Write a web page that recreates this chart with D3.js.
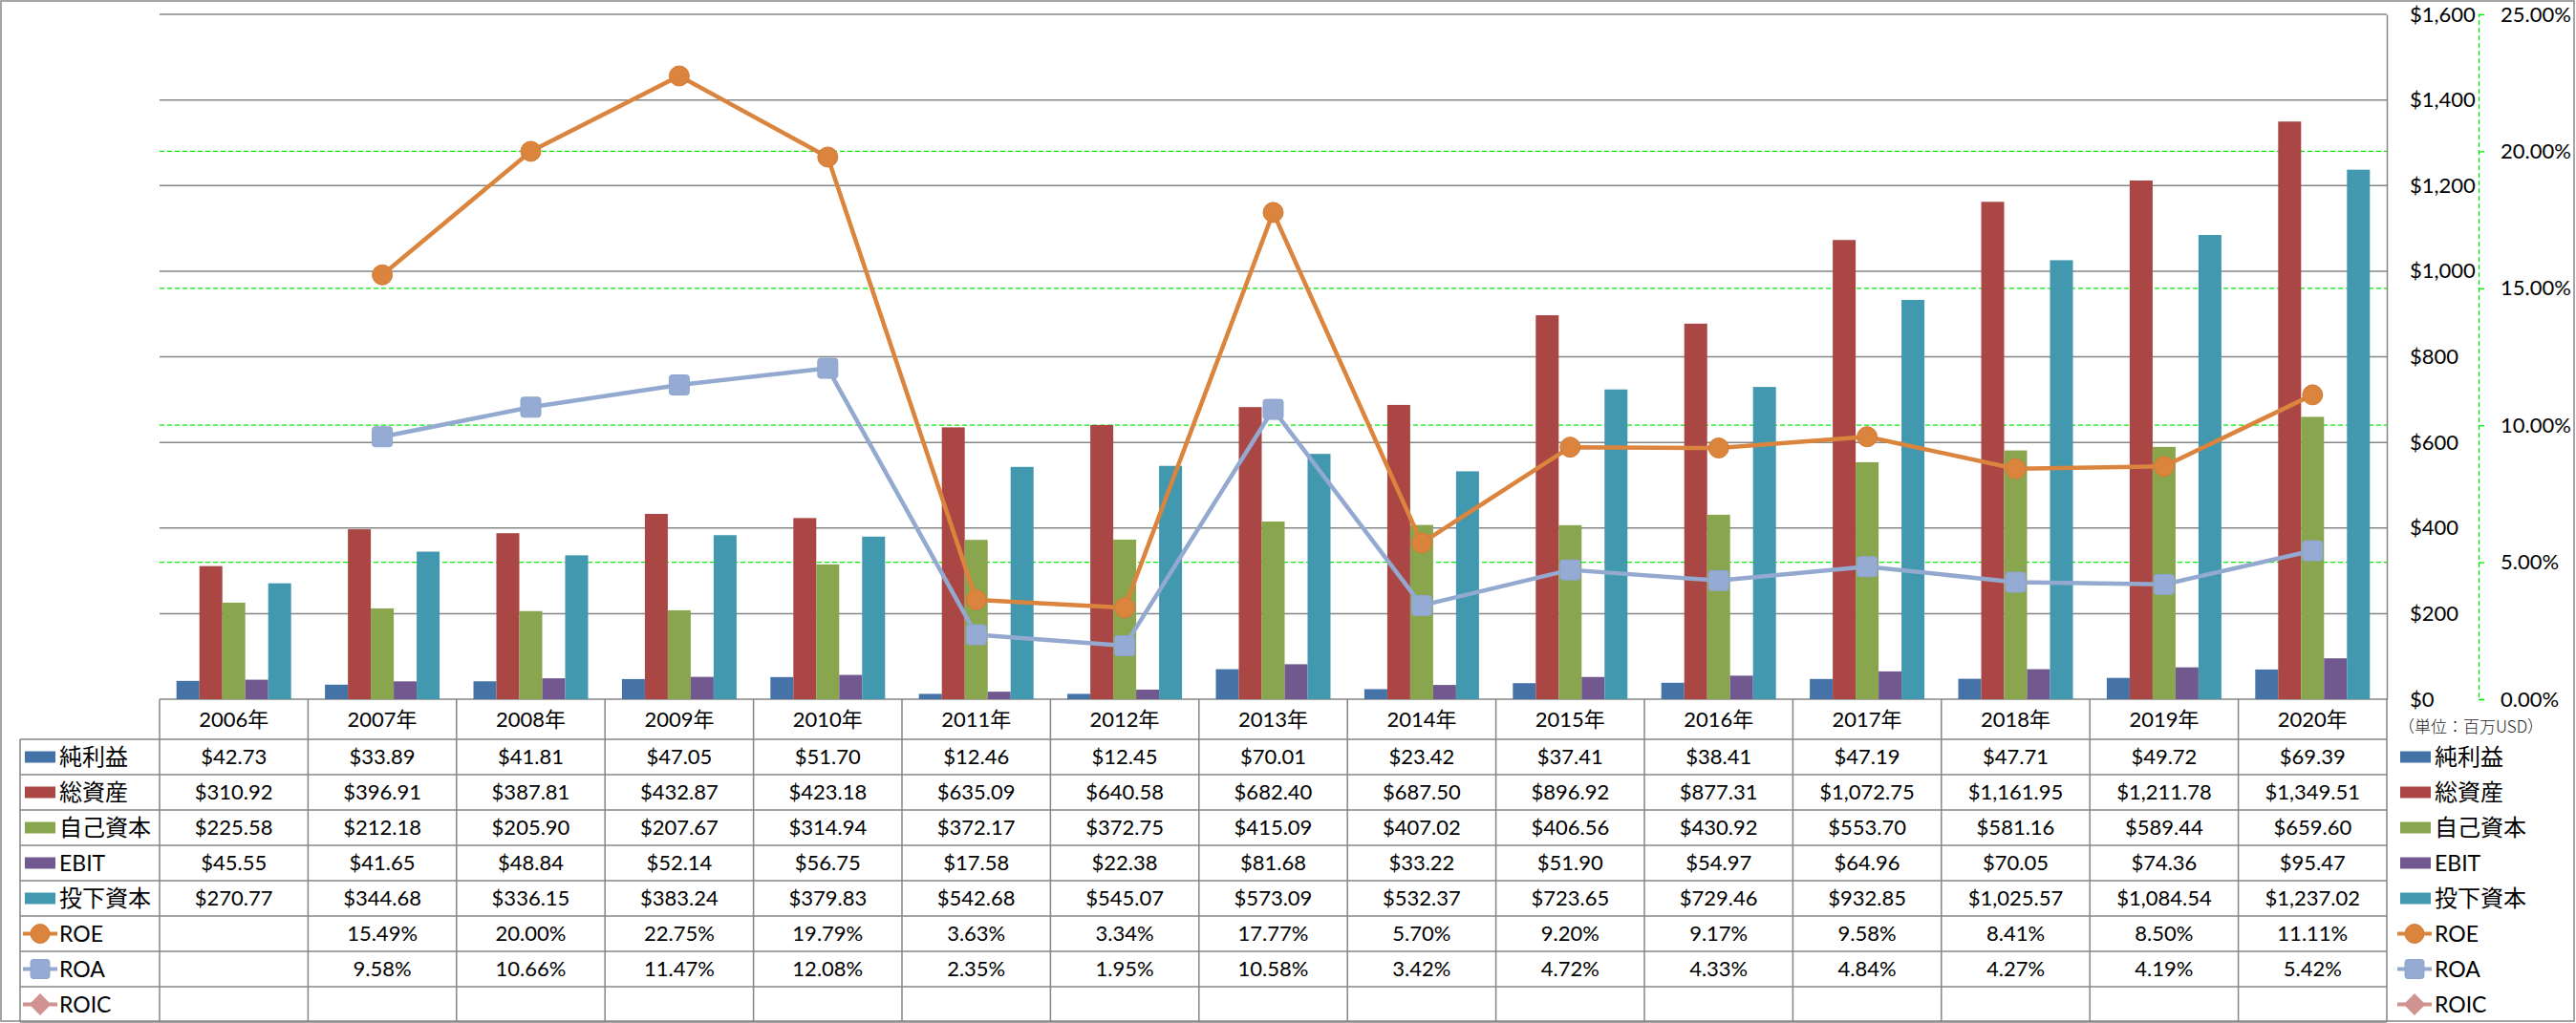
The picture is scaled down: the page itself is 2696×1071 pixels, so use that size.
<!DOCTYPE html>
<html><head><meta charset="utf-8">
<script src="https://cdn.jsdelivr.net/npm/d3@7"></script>
<style>
html,body{margin:0;padding:0;background:#fff;}
svg{display:block;font-family:Lato,"Noto Sans CJK JP",sans-serif;}
</style></head>
<body>
<svg id="c" width="2696" height="1071"></svg>
<script>
// ---- data ----
const years = ["2006年","2007年","2008年","2009年","2010年","2011年","2012年","2013年","2014年","2015年","2016年","2017年","2018年","2019年","2020年"];
const netIncome = [42.73,33.89,41.81,47.05,51.70,12.46,12.45,70.01,23.42,37.41,38.41,47.19,47.71,49.72,69.39];
const totalAssets = [310.92,396.91,387.81,432.87,423.18,635.09,640.58,682.40,687.50,896.92,877.31,1072.75,1161.95,1211.78,1349.51];
const equity = [225.58,212.18,205.90,207.67,314.94,372.17,372.75,415.09,407.02,406.56,430.92,553.70,581.16,589.44,659.60];
const ebit = [45.55,41.65,48.84,52.14,56.75,17.58,22.38,81.68,33.22,51.90,54.97,64.96,70.05,74.36,95.47];
const investedCapital = [270.77,344.68,336.15,383.24,379.83,542.68,545.07,573.09,532.37,723.65,729.46,932.85,1025.57,1084.54,1237.02];
const roe = [null,15.49,20.00,22.75,19.79,3.63,3.34,17.77,5.70,9.20,9.17,9.58,8.41,8.50,11.11];
const roa = [null,9.58,10.66,11.47,12.08,2.35,1.95,10.58,3.42,4.72,4.33,4.84,4.27,4.19,5.42];
const roic = [null,null,null,null,null,null,null,null,null,null,null,null,null,null,null];
const barNames = ["純利益","総資産","自己資本","EBIT","投下資本"];
const lineNames = ["ROE","ROA","ROIC"];
const dollarTicks = [0,200,400,600,800,1000,1200,1400,1600];
const pctTicks = [0,5,10,15,20,25];
const unitLabel = "（単位：百万USD）";

const barColors = ["#4572A7","#AA4643","#89A54E","#71588F","#4198AF"];
const lineColors = ["#DB843D","#93A9CF","#D19392"];
const lineShapes = ["circle","square","diamond"];
const barSeries = [netIncome,totalAssets,equity,ebit,investedCapital];
const lineSeries = [roe,roa,roic];

// ---- layout ----
const W=2696,H=1071;
const L=167,R=2498,T=15,B=732;
const labelLeft=21, headerBottom=774, rowH=37;
const svg=d3.select("#c");

svg.append("rect").attr("x",1).attr("y",1).attr("width",W-3).attr("height",H-3)
  .attr("fill","#fff").attr("stroke","#868686").attr("stroke-width",1.5);

const x=d3.scaleBand().domain(years).range([L,R]).padding(0);
const bw=x.bandwidth();
const groupW=bw*0.772;
const x1=d3.scaleBand().domain(barNames).range([(bw-groupW)/2,(bw+groupW)/2]).padding(0);
const y=d3.scaleLinear().domain([0,1600]).range([B,T]);
const y2=d3.scaleLinear().domain([0,25]).range([B,T]);

// gray gridlines
svg.append("g").selectAll("line").data(dollarTicks).join("line")
  .attr("x1",L).attr("x2",R).attr("y1",d=>y(d)).attr("y2",d=>y(d))
  .attr("stroke","#868686").attr("stroke-width",1.5);
// green dashed gridlines (secondary)
svg.append("g").selectAll("line").data(pctTicks.filter(d=>d>0&&d<25)).join("line")
  .attr("x1",L).attr("x2",R).attr("y1",d=>y2(d)).attr("y2",d=>y2(d))
  .attr("stroke","#00EE00").attr("stroke-width",1.3).attr("stroke-dasharray","5,3");

// bars
const gBars=svg.append("g");
barSeries.forEach((vals,si)=>{
  gBars.append("g").selectAll("rect").data(vals).join("rect")
    .attr("x",(d,i)=>x(years[i])+x1(barNames[si]))
    .attr("width",x1.bandwidth())
    .attr("y",d=>y(d)).attr("height",d=>y(0)-y(d))
    .attr("fill",barColors[si]);
});

// primary axis (right)
const ax=svg.append("g").attr("transform",`translate(${R},0)`)
  .call(d3.axisRight(y).tickValues(dollarTicks).tickSize(0).tickPadding(24).tickFormat(d3.format("$,")));
ax.select(".domain").attr("stroke","#868686").attr("stroke-width",1.5);
ax.selectAll("text").attr("font-size",22).attr("fill","#000").attr("font-family","Lato");

// secondary axis
const ax2=svg.append("g").attr("transform",`translate(2594,0)`)
  .call(d3.axisRight(y2).tickValues(pctTicks).tickSize(6).tickPadding(17).tickFormat(d=>d3.format(".2%")(d/100)));
ax2.select(".domain").attr("stroke","#00EE00").attr("stroke-width",1.3).attr("stroke-dasharray","5,3");
ax2.selectAll(".tick line").attr("stroke","#00EE00").attr("stroke-width",1.3);
ax2.selectAll("text").attr("font-size",22).attr("fill","#000").attr("font-family","Lato");

// marker drawer
function marker(g,shape,color,cx,cy,s){
  if(shape==="circle"){
    g.append("circle").attr("cx",cx).attr("cy",cy).attr("r",10.5*s).attr("fill",color).attr("stroke","#D57A33").attr("stroke-width",1);
  }else if(shape==="square"){
    g.append("rect").attr("x",cx-10.5*s).attr("y",cy-10.5*s).attr("width",21*s).attr("height",21*s).attr("rx",3*s)
      .attr("fill","#95ABD3").attr("stroke","#8EA5CC").attr("stroke-width",1);
  }else{
    const r=12*s;
    g.append("path").attr("d",`M${cx},${cy-r}L${cx+r},${cy}L${cx},${cy+r}L${cx-r},${cy}Z`).attr("fill",color);
  }
}

// lines
const gLines=svg.append("g");
lineSeries.forEach((vals,si)=>{
  const pts=vals.map((v,i)=>({v,i})).filter(p=>p.v!==null);
  if(!pts.length) return;
  const line=d3.line().x(p=>x(years[p.i])+bw/2).y(p=>y2(p.v));
  gLines.append("path").attr("d",line(pts)).attr("fill","none")
    .attr("stroke",lineColors[si]).attr("stroke-width",4.5).attr("stroke-linejoin","round");
  pts.forEach(p=>marker(gLines,lineShapes[si],lineColors[si],x(years[p.i])+bw/2,y2(p.v),1));
});

// ---- data table ----
const gT=svg.append("g");
const tableStroke="#868686";
const nRows=barNames.length+lineNames.length;
const tableBottom=headerBottom+nRows*rowH;
gT.append("line").attr("x1",labelLeft).attr("x2",R).attr("y1",headerBottom).attr("y2",headerBottom);
d3.range(1,nRows+1).forEach(k=>{
  gT.append("line").attr("x1",labelLeft).attr("x2",R).attr("y1",headerBottom+k*rowH).attr("y2",headerBottom+k*rowH);
});
years.forEach(yr=>{
  gT.append("line").attr("x1",x(yr)).attr("x2",x(yr)).attr("y1",B).attr("y2",tableBottom);
});
gT.append("line").attr("x1",R).attr("x2",R).attr("y1",B).attr("y2",tableBottom);
gT.append("line").attr("x1",labelLeft).attr("x2",labelLeft).attr("y1",headerBottom).attr("y2",tableBottom);
gT.selectAll("line").attr("stroke",tableStroke).attr("stroke-width",1.5);

gT.append("g").selectAll("text").data(years).join("text")
  .attr("x",d=>x(d)+bw/2).attr("y",(B+headerBottom)/2).attr("dy","0.36em")
  .attr("text-anchor","middle").attr("font-size",22).text(d=>d);

const fmtD=d3.format("$,.2f"), fmtP=v=>d3.format(".2%")(v/100);
const allRows=[...barSeries.map(v=>({vals:v,fmt:fmtD})),...lineSeries.map(v=>({vals:v,fmt:fmtP}))];
allRows.forEach((row,ri)=>{
  const cy=headerBottom+ri*rowH+rowH/2;
  gT.append("g").selectAll("text").data(row.vals).join("text")
    .attr("x",(d,i)=>x(years[i])+bw/2).attr("y",cy).attr("dy","0.36em")
    .attr("text-anchor","middle").attr("font-size",22)
    .text(d=>d===null?"":row.fmt(d));
});

function legendItem(g,ri,sx,tx,mx){
  const cy=headerBottom+ri*rowH+rowH/2;
  if(ri<barNames.length){
    g.append("rect").attr("x",sx).attr("y",cy-6).attr("width",32).attr("height",12).attr("fill",barColors[ri]);
    const nm=barNames[ri];
    g.append("text").attr("x",tx).attr("y",cy).attr("dy","0.36em")
      .attr("font-size",/^[A-Z]+$/.test(nm)?23:24).text(nm);
  }else{
    const li=ri-barNames.length;
    g.append("line").attr("x1",mx-18).attr("x2",mx+18).attr("y1",cy).attr("y2",cy)
      .attr("stroke",lineColors[li]).attr("stroke-width",4);
    marker(g,lineShapes[li],lineColors[li],mx,cy,0.95);
    g.append("text").attr("x",tx).attr("y",cy).attr("dy","0.36em").attr("font-size",23).text(lineNames[li]);
  }
}
const gLab=svg.append("g");
d3.range(nRows).forEach(ri=>legendItem(gLab,ri,26,62,42));
const gLeg=svg.append("g");
d3.range(nRows).forEach(ri=>legendItem(gLeg,ri,2512,2548,2527));

svg.append("text").attr("x",2510).attr("y",761).attr("dy","0.36em")
  .attr("font-size",17).attr("font-family","Noto Sans CJK JP").attr("font-weight",300).attr("fill","#222").text(unitLabel);
</script>
</body></html>
